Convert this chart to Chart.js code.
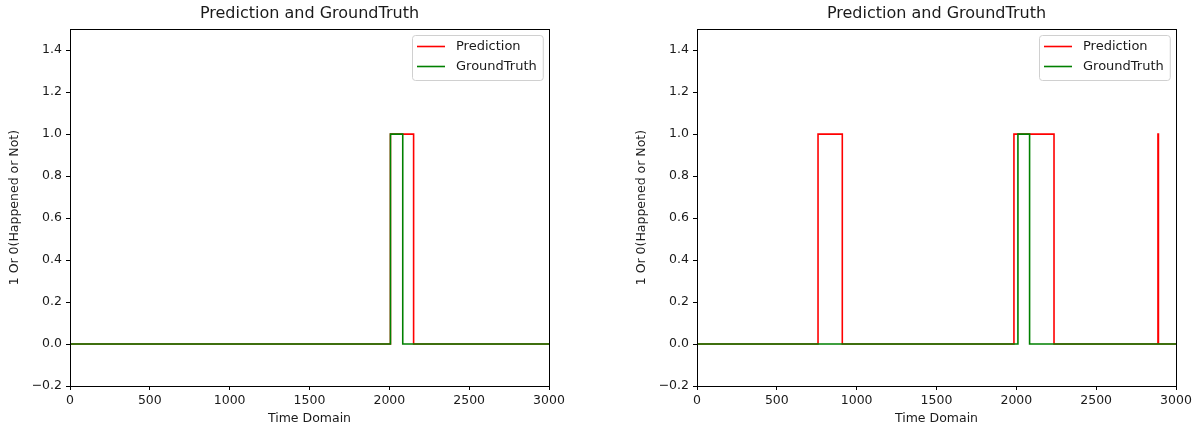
<!DOCTYPE html>
<html>
<head>
<meta charset="utf-8">
<script src="https://cdn.jsdelivr.net/npm/chart.js@4.4.1/dist/chart.umd.min.js"></script>
<style>
    html, body { margin: 0; padding: 0; background: #fff; }
    #wrap { position: relative; width: 1197px; height: 430px; overflow: hidden; }
    canvas { position: absolute; top: 0; }
    #left-chart { left: 0; }
    #right-chart { left: 627px; }
</style>
</head>
<body>
<div id="wrap">
    <canvas id="left-chart" width="600" height="430"></canvas>
    <canvas id="right-chart" width="570" height="430"></canvas>
</div>
<script>
/* ==========================================================
   DATA (step change points: the value switches at each x)
   ========================================================== */
const titleText = 'Prediction and GroundTruth';
const xTitle = 'Time Domain';
const yTitle = '1 Or 0(Happened or Not)';
const seriesNames = ['Prediction', 'GroundTruth'];

const leftPredX  = [0, 2007, 2152, 3000];
const leftPredY  = [0, 1, 0, 0];
const leftTruthX = [0, 2007, 2084, 3000];
const leftTruthY = [0, 1, 0, 0];

const rightPredX  = [0, 758, 910, 1985, 2236, 2887, 2890, 3000];
const rightPredY  = [0, 1, 0, 1, 0, 1, 0, 0];
const rightTruthX = [0, 2010, 2083, 3000];
const rightTruthY = [0, 1, 0, 0];

const xTicks = [0, 500, 1000, 1500, 2000, 2500, 3000];
const yTicks = [-0.2, 0.0, 0.2, 0.4, 0.6, 0.8, 1.0, 1.2, 1.4];

/* ==========================================================
   HELPERS
   ========================================================== */
const FONT = 'DejaVu Sans';
const TEXT = '#1a1a1a';

function toPoints(xs, ys) {
    return xs.map((x, i) => ({ x: x, y: ys[i] }));
}

// full box around the plot area, like matplotlib spines
const frameBox = {
    id: 'frameBox',
    afterDraw(chart) {
        const a = chart.chartArea;
        const ctx = chart.ctx;
        ctx.save();
        ctx.strokeStyle = '#000';
        ctx.lineWidth = 1;
        ctx.strokeRect(Math.round(a.left) + 0.5, Math.round(a.top) + 0.5,
                       Math.round(a.right - a.left), Math.round(a.bottom - a.top));
        ctx.restore();
    }
};

// legend box in the upper right corner inside the axes
const insideLegend = {
    id: 'insideLegend',
    afterDraw(chart) {
        const a = chart.chartArea;
        const ctx = chart.ctx;
        const sets = chart.data.datasets;
        ctx.save();
        ctx.font = '13px "' + FONT + '"';
        let maxW = 0;
        sets.forEach(ds => { maxW = Math.max(maxW, ctx.measureText(ds.label).width); });
        const w = 5 + 28 + 11 + maxW + 6;
        const h = 45;
        const x0 = Math.round(a.right - 6 - w);
        const y0 = Math.round(a.top + 6);
        ctx.fillStyle = 'rgba(255,255,255,0.8)';
        ctx.strokeStyle = '#d0d0d0';
        ctx.lineWidth = 1;
        ctx.beginPath();
        ctx.roundRect(x0 + 0.5, y0 + 0.5, w, h, 3);
        ctx.fill();
        ctx.stroke();
        ctx.textBaseline = 'middle';
        sets.forEach((ds, i) => {
            const y = y0 + 11.5 + i * 20;
            ctx.strokeStyle = ds.borderColor;
            ctx.lineWidth = 1.6;
            ctx.beginPath();
            ctx.moveTo(x0 + 5, y);
            ctx.lineTo(x0 + 33, y);
            ctx.stroke();
            ctx.fillStyle = TEXT;
            ctx.fillText(ds.label, x0 + 44, y);
        });
        ctx.restore();
    }
};

function makeChart(canvasId, predX, predY, truthX, truthY, padRight) {
    const ctx = document.getElementById(canvasId).getContext('2d');
    return new Chart(ctx, {
        type: 'line',
        data: {
            datasets: [
                {
                    label: seriesNames[0],
                    data: toPoints(predX, predY),
                    borderColor: '#ff0000',
                    borderWidth: 1.6,
                    pointRadius: 0,
                    stepped: 'before',
                    fill: false,
                    order: 1
                },
                {
                    label: seriesNames[1],
                    data: toPoints(truthX, truthY),
                    borderColor: '#008000',
                    borderWidth: 1.6,
                    pointRadius: 0,
                    stepped: 'before',
                    fill: false,
                    order: 0
                }
            ]
        },
        options: {
            responsive: false,
            animation: false,
            devicePixelRatio: 1,
            layout: { padding: { left: 0, right: padRight, top: 0, bottom: 0 } },
            plugins: {
                legend: { display: false },
                tooltip: { enabled: false },
                title: {
                    display: true,
                    fullSize: false,   // center over the plot area, not the canvas
                    text: titleText,
                    color: TEXT,
                    font: { family: FONT, size: 16, weight: 'normal' },
                    padding: { top: 4, bottom: 6 }
                }
            },
            scales: {
                x: {
                    type: 'linear',
                    min: 0,
                    max: 3000,
                    afterFit(scale) { scale.height = 44; },
                    afterBuildTicks(scale) { scale.ticks = xTicks.map(v => ({ value: v })); },
                    grid: { drawOnChartArea: false, drawTicks: true, tickLength: 4, color: '#000' },
                    border: { display: true, color: '#000' },
                    ticks: {
                        color: TEXT,
                        padding: 3,
                        maxRotation: 0,
                        font: { family: FONT, size: 12.5 },
                        callback: v => String(v)
                    },
                    title: {
                        display: true,
                        text: xTitle,
                        color: TEXT,
                        font: { family: FONT, size: 12.5 },
                        padding: { top: 0, bottom: 4 }
                    }
                },
                y: {
                    type: 'linear',
                    min: -0.2,
                    max: 1.5,
                    afterFit(scale) { scale.width = 70; },
                    afterBuildTicks(scale) { scale.ticks = yTicks.map(v => ({ value: v })); },
                    grid: { drawOnChartArea: false, drawTicks: true, tickLength: 4, color: '#000' },
                    border: { display: true, color: '#000' },
                    ticks: {
                        color: TEXT,
                        padding: 4,
                        font: { family: FONT, size: 12.5 },
                        callback: v => v.toFixed(1).replace('-', '\u2212')
                    },
                    title: {
                        display: true,
                        text: yTitle,
                        color: TEXT,
                        font: { family: FONT, size: 12.5 },
                        padding: { top: 7, bottom: 0 }
                    }
                }
            }
        },
        plugins: [frameBox, insideLegend]
    });
}

makeChart('left-chart', leftPredX, leftPredY, leftTruthX, leftTruthY, 51);
makeChart('right-chart', rightPredX, rightPredY, rightTruthX, rightTruthY, 21);
</script>
</body>
</html>
